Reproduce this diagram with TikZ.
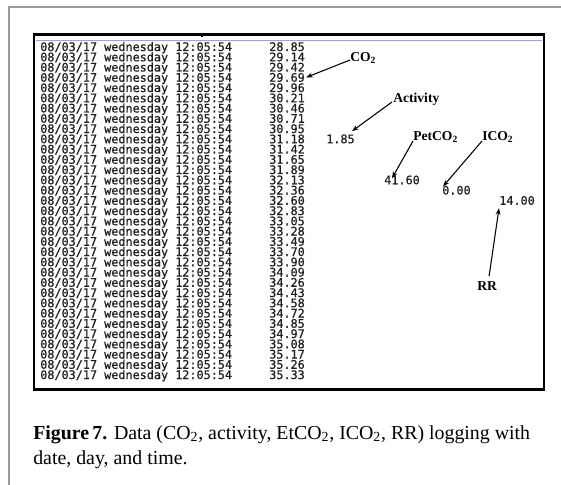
\documentclass[tikz,border=0pt]{standalone}
\usepackage{fontspec}
\setmainfont{Liberation Serif}
\newfontfamily\logfont[FakeBold=0.6]{DejaVu Sans Mono}
\usetikzlibrary{arrows.meta,calc}

\begin{document}
\begin{tikzpicture}[x=0.75pt,y=-0.75pt,
  logtext/.style={anchor=base west,inner sep=0pt,font=\logfont\fontsize{8.85}{10}\selectfont,text=black!88},
  tag/.style={anchor=west,inner sep=0pt,font=\bfseries\fontsize{10.2}{12}\selectfont},
  pointer/.style={-{Stealth[length=5pt,width=3.6pt]},line width=0.8pt},
  captext/.style={anchor=base west,inner sep=0pt,font=\fontsize{14.9}{18}\selectfont}]
\useasboundingbox (0,0) rectangle (561,485);
\fill[white] (0,0) rectangle (561,485);

% page frame
\draw[black!40,line width=1.1pt] (9,485) -- (9,7) -- (561,7);

% log window
\draw[line width=2pt] (34,34.5) rectangle (544,389.5);
\draw[blue!35!gray!55,line width=0.6pt] (36,40) -- (542,40);
\draw[black,line width=0.8pt] (202,35) -- (202,37.5);

% logged rows: date, day, time and CO2 value
\foreach \v [count=\i from 0] in {28.85,29.14,29.42,29.69,29.96,30.21,30.46,30.71,30.95,31.18,31.42,31.65,31.89,32.13,32.36,32.60,32.83,33.05,33.28,33.49,33.70,33.90,34.09,34.26,34.43,34.58,34.72,34.85,34.97,35.08,35.17,35.26,35.33}{
  \node[logtext] (d\i) at (40,{51+10.25*\i}) {08/03/17 wednesday 12:05:54};
  \node[logtext] (v\i) at (269,{51+10.25*\i}) {\v};
}

% other readings
\node[logtext] (act) at (326,{51+10.25*9}) {1.85};
\node[logtext] (pet) at (384,{51+10.25*13}) {41.60};
\node[logtext] (ico) at (442,{51+10.25*14}) {0.00};
\node[logtext] (rr)  at (499,{51+10.25*15}) {14.00};

% labels
\node[tag] (lco)  at (350,58)  {CO\textsubscript{2}};
\node[tag] (lact) at (393,99)  {Activity};
\node[tag] (lpet) at (413,137) {PetCO\textsubscript{2}};
\node[tag] (lico) at (482,137) {ICO\textsubscript{2}};
\node[tag] (lrr)  at (477,286) {RR};

% pointers
\draw[pointer] ($(lco.west)+(0,2)$) -- ($(v3.east)+(1,0)$);
\draw[pointer] ($(lact.west)+(-1,3)$) -- ($(act.north east)+(-3,-3)$);
\draw[pointer] ($(lpet.west)+(0,4)$) -- ($(pet.north west)+(8,3)$);
\draw[pointer] ($(lico.west)+(0,4)$) -- ($(ico.north west)+(1,1)$);
\draw[pointer] ($(lrr.north)+(2,-5)$) -- ($(rr.south west)+(0,3)$);

% caption
\node[captext] (cap1) at (33,439) {\textbf{Figure\,7.} Data (CO\textsubscript{2}, activity, EtCO\textsubscript{2}, ICO\textsubscript{2}, RR) logging with};
\node[captext] (cap2) at (33,464) {date, day, and time.};
\end{tikzpicture}
\end{document}
